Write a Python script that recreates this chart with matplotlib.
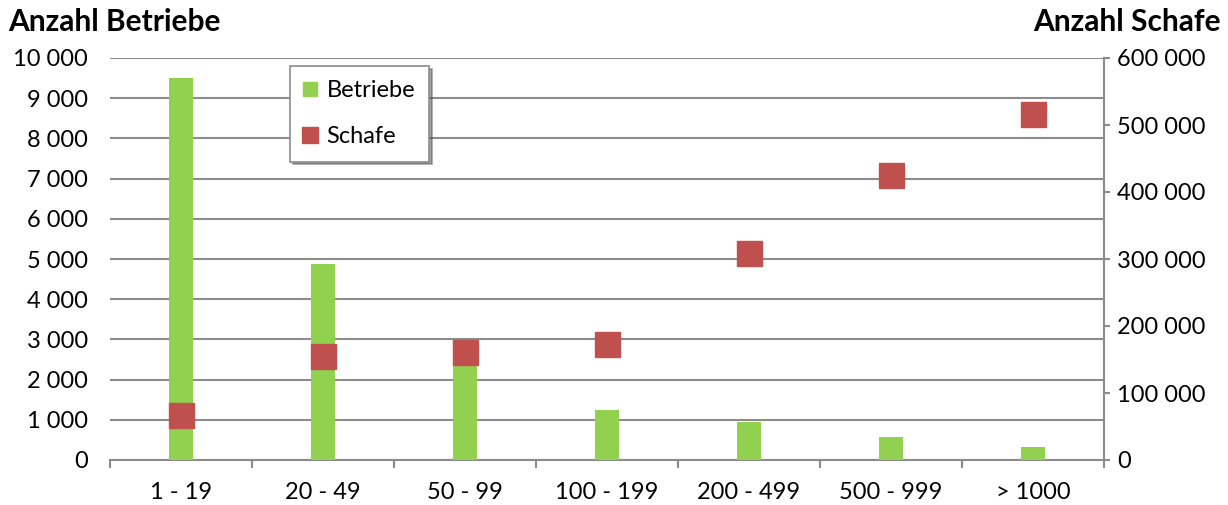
import matplotlib
matplotlib.use("Agg")
import matplotlib.pyplot as plt
from matplotlib.lines import Line2D
from matplotlib.ticker import FuncFormatter, MultipleLocator
import numpy as np

categories = ["1 - 19", "20 - 49", "50 - 99", "100 - 199", "200 - 499", "500 - 999", "> 1000"]
betriebe = [9500, 4880, 2340, 1240, 950, 580, 315]
schafe = [67000, 155000, 161000, 173000, 309000, 426000, 516000]

GREEN = "#92D050"
RED = "#C0504D"
GRID = "#8C8C8C"
FONT = ["Lato", "DejaVu Sans"]
plt.rcParams["font.family"] = FONT
FS = 17

fig = plt.figure(figsize=(12.28, 5.05), dpi=100)
ax = fig.add_axes([110/1228, 1-460/505, (1104-110)/1228, (460-58)/505])
x = np.arange(len(categories))
ax.bar(x, betriebe, width=0.168, color=GREEN, zorder=3)
ax.set_xlim(-0.5, len(categories) - 0.5)
ax.set_ylim(0, 10000)
ax.yaxis.set_major_locator(MultipleLocator(1000))
fmt = FuncFormatter(lambda v, p: f"{int(v):,}".replace(",", " "))
ax.yaxis.set_major_formatter(fmt)
ax.grid(axis="y", color=GRID, linewidth=1.5, zorder=0)
ax.set_axisbelow(True)
for s in ["top", "left", "right"]:
    ax.spines[s].set_visible(False)
ax.spines["bottom"].set_color(GRID)
ax.spines["bottom"].set_linewidth(1.5)
ax.set_xticks(x)
ax.set_xticklabels(categories)
ax.set_xticks(np.arange(len(categories) + 1) - 0.5, minor=True)
ax.tick_params(axis="x", which="major", length=0, labelsize=FS, pad=16)
ax.tick_params(axis="x", which="minor", length=6, width=1.5, color=GRID)
ax.tick_params(axis="y", length=0, labelsize=FS, pad=16)

ax2 = ax.twinx()
ax2.plot(x, schafe, linestyle="none", marker="s", markersize=18, color=RED, zorder=4)
ax2.set_ylim(0, 600000)
ax2.yaxis.set_major_locator(MultipleLocator(100000))
ax2.yaxis.set_major_formatter(fmt)
for s in ["top", "left", "bottom"]:
    ax2.spines[s].set_visible(False)
ax2.spines["right"].set_color(GRID)
ax2.spines["right"].set_linewidth(1.5)
ax2.tick_params(axis="y", length=4.5, width=1.5, color=GRID, labelsize=FS, pad=5)

fig.text(8/1228, 1-22/505, "Anzahl Betriebe", fontsize=21.5, fontweight="bold", va="center", ha="left")
fig.text(1221/1228, 1-22/505, "Anzahl Schafe", fontsize=21.5, fontweight="bold", va="center", ha="right")

handles = [
    Line2D([], [], linestyle="none", marker="s", markersize=10.5, color=GREEN),
    Line2D([], [], linestyle="none", marker="s", markersize=11.5, color=RED),
]
leg = ax2.legend(handles, ["Betriebe", "Schafe"], loc="upper left",
                 bbox_to_anchor=((290-110)/994, (460-66)/402), fontsize=FS,
                 frameon=True, fancybox=False, shadow=True, borderpad=0.6,
                 labelspacing=1.07, handletextpad=0.45, handlelength=0.5,
                 borderaxespad=0)
leg.get_frame().set_edgecolor(GRID)
leg.get_frame().set_linewidth(1.2)

fig.savefig("out.png", dpi=100)
